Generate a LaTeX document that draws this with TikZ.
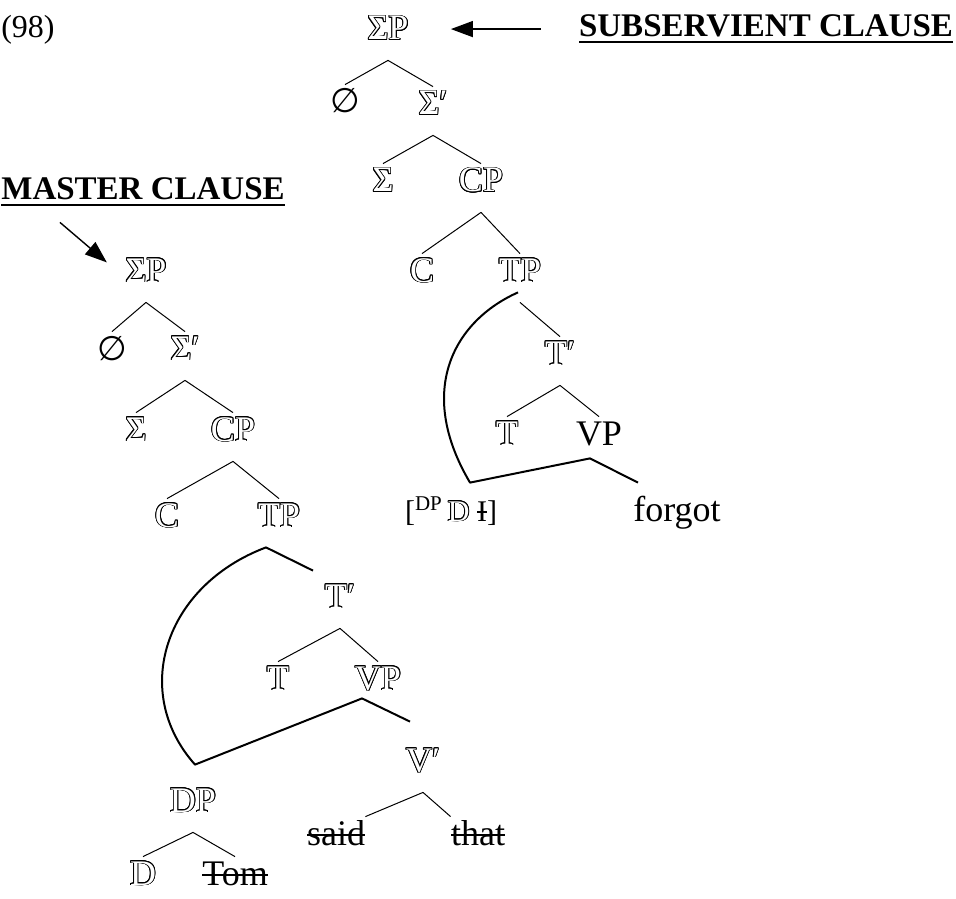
\documentclass[tikz,border=0pt]{standalone}
\usepackage{fontspec}
\setmainfont{Liberation Serif}
\newfontfamily\symfont{DejaVu Sans}
\usetikzlibrary{arrows.meta,calc,positioning}
% hollow letters: black copies round a white copy
\newcommand{\hol}[1]{\setbox0\hbox{\textcolor{black}{#1}}%
  \foreach \dx/\dy in {0.45/0,0.32/0.32,0/0.45,-0.32/0.32,-0.45/0,-0.32/-0.32,0/-0.45,0.32/-0.32,
                       0.42/0.17,0.17/0.42,-0.17/0.42,-0.42/0.17,-0.42/-0.17,-0.17/-0.42,0.17/-0.42,0.42/-0.17}
    {\rlap{\hspace*{\dx pt}\raisebox{\dy pt}{\copy0}}}%
  \hbox{\textcolor{white}{#1}}}
\newcommand{\struck}[1]{\setbox0\hbox{#1}\rlap{\rule[0.26em]{\wd0}{1pt}}\box0}
\newcommand{\uln}[1]{\setbox0\hbox{#1}\rlap{\rule[-3pt]{\wd0}{1.2pt}}\box0}
\tikzset{
  lab/.style     = {anchor=base, inner sep=0pt, text height=14pt, text depth=10pt,
                    font=\fontsize{18}{21}\selectfont},
  nulllab/.style = {lab, font=\fontsize{17}{20}\selectfont\symfont},
  head/.style    = {anchor=base, inner sep=0pt, font=\fontsize{16.5}{20}\selectfont\bfseries},
  branch/.style  = {line width=0.5pt},
  move/.style    = {line width=1pt, line join=round},
  pointer/.style = {-{Stealth[length=11pt,width=8pt,inset=0pt]}, line width=0.7pt},
}

\begin{document}
\begin{tikzpicture}[x=0.5pt,y=-0.5pt]
  \useasboundingbox (0,0) rectangle (956,898);
  \node[lab,font=\fontsize{16}{20}\selectfont] (exno) at (28,38) {(98)};
  \node[head] (subhead) at (766,37) {\uln{SUBSERVIENT CLAUSE}};
  \node[head] (masthead) at (143,200) {\uln{MASTER CLAUSE}};

  % subservient clause
  \node[lab]     (sSigP) at (388,40)  {\hol{ΣP}};
  \node[nulllab] (sNull) at (345,113) {∅};
  \node[lab]     (sSigB) at (433,115) {\hol{Σ′}};
  \node[lab]     (sSig)  at (383,192) {\hol{Σ}};
  \node[lab]     (sCP)   at (481,192) {\hol{CP}};
  \node[lab]     (sC)    at (422,282) {\hol{C}};
  \node[lab]     (sTP)   at (520,282) {\hol{TP}};
  \node[lab]     (sTb)   at (560,365) {\hol{T′}};
  \node[lab]     (sT)    at (507,445) {\hol{T}};
  \node[lab]     (sVP)   at (599,445) {VP};
  \node[lab,font=\fontsize{15}{18}\selectfont] (sDP) at (451,521)
    {[\textsuperscript{DP}\,\hol{D} \struck{I}]};
  \node[lab]     (forgot) at (677,521) {forgot};
  \foreach \p/\c in {sSigP/sNull,sSigP/sSigB,sSigB/sSig,sSigB/sCP,sCP/sC,sCP/sTP,
                     sTP/sTb,sTb/sT,sTb/sVP}
    \draw[branch] (\p.south) -- (\c.north);
  \coordinate (sTPfoot) at ($(sTP.south)+(-2,-10)$);
  \coordinate (sDPtop)  at ($(sDP.north)+(19,-10)$);
  \coordinate (sVPfoot) at ($(sVP.south)+(-9,-7)$);
  \coordinate (sFtop)   at ($(forgot.north)+(-39,-10)$);
  \draw[move] (sTPfoot) .. controls +(-63,28) and +(-55,-93) .. (sDPtop)
    -- (sVPfoot) -- (sFtop);
  \draw[pointer,shorten >=21pt] ($(subhead.west)+(-38,0)$) -- (subhead.west -| sSigP.east);

  % master clause
  \node[lab]     (mSigP) at (146,282) {\hol{ΣP}};
  \node[nulllab] (mNull) at (112,360) {∅};
  \node[lab]     (mSigB) at (185,360) {\hol{Σ′}};
  \node[lab]     (mSig)  at (136,441) {\hol{Σ}};
  \node[lab]     (mCP)   at (233,441) {\hol{CP}};
  \node[lab]     (mC)    at (167,527) {\hol{C}};
  \node[lab]     (mTP)   at (279,527) {\hol{TP}};
  \node[lab]     (mTb)   at (340,608) {\hol{T′}};
  \node[lab]     (mT)    at (278,690) {\hol{T}};
  \node[lab]     (mVP)   at (378,690) {\hol{VP}};
  \node[lab]     (mVb)   at (423,772) {\hol{V′}};
  \node[lab]     (mDP)   at (193,812) {\hol{DP}};
  \node[lab]     (said)  at (336,845) {\struck{said}};
  \node[lab]     (that)  at (478,845) {\struck{that}};
  \node[lab]     (mD)    at (143,885) {\hol{D}};
  \node[lab]     (tom)   at (235,885) {\struck{Tom}};
  \foreach \p/\c in {mSigP/mNull,mSigP/mSigB,mSigB/mSig,mSigB/mCP,mCP/mC,mCP/mTP,
                     mTb/mT,mTb/mVP,mDP/mD,mDP/tom}
    \draw[branch] (\p.south) -- (\c.north);
  \draw[branch] (mVb.south) -- (said.north east);
  \draw[branch] (mVb.south) -- (that.north west);
  \coordinate (mTPfoot) at ($(mTP.south)+(-13,0)$);
  \coordinate (mTbtop)  at ($(mTb.north)+(-27,-9)$);
  \coordinate (mDPtop)  at ($(mDP.north)+(2,-19)$);
  \coordinate (mVPfoot) at ($(mVP.south)+(-16,-12)$);
  \coordinate (mVbtop)  at ($(mVb.north)+(-13,-22)$);
  \draw[move] (mTbtop) -- (mTPfoot) .. controls +(-101,38) and +(-65,-73) .. (mDPtop)
    -- (mVPfoot) -- (mVbtop);
  \draw[pointer,shorten >=12pt] ($(masthead.south west)+(59,16)$) -- (mSigP.west);
\end{tikzpicture}
\end{document}
